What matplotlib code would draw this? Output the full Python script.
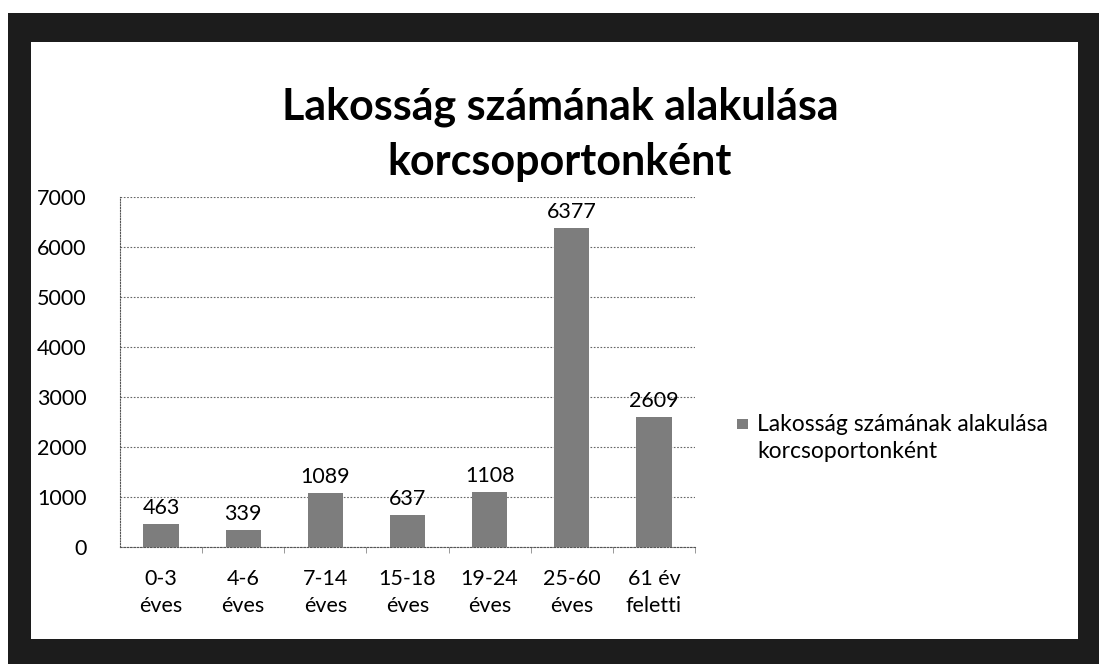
import matplotlib.pyplot as plt
from matplotlib.patches import Rectangle

# Data
categories = ['0-3\néves', '4-6\néves', '7-14\néves', '15-18\néves',
              '19-24\néves', '25-60\néves', '61 év\nfeletti']
values = [463, 339, 1089, 637, 1108, 6377, 2609]
series_name = 'Lakosság számának alakulása\nkorcsoportonként'
title = 'Lakosság számának alakulása\nkorcsoportonként'
yticks = [0, 1000, 2000, 3000, 4000, 5000, 6000, 7000]

plt.rcParams['font.family'] = ['Lato', 'DejaVu Sans']
fs = 15.5
bar_color = '#7d7d7d'

fig = plt.figure(figsize=(10.99, 6.64), dpi=100)

# dark scanned frame around the chart
frame = Rectangle((8 / 1099, 0), 1 - 8 / 1099, 1 - 13 / 664,
                  transform=fig.transFigure, facecolor='#1c1c1c',
                  edgecolor='none', zorder=-2)
inner = Rectangle((31 / 1099, 25 / 664), (1078 - 31) / 1099, (639 - 42) / 664,
                  transform=fig.transFigure, facecolor='white',
                  edgecolor='none', zorder=-1)
fig.patches.extend([frame, inner])

ax = fig.add_axes([120 / 1099, 1 - 547 / 664, 575 / 1099, 350 / 664])
ax.set_facecolor('none')
ax.set_zorder(2)

x = range(len(categories))
bars = ax.bar(x, values, width=0.43, color=bar_color, label=series_name, zorder=3)

for xi, v in zip(x, values):
    ax.text(xi, v + 120, str(v), ha='center', va='bottom', fontsize=fs, zorder=4)

ax.set_xlim(-0.5, len(categories) - 0.5)
ax.set_ylim(0, 7000)
ax.set_yticks(yticks)
ax.set_xticks(list(x))
ax.set_xticks([i + 0.5 for i in range(len(categories))], minor=True)
ax.set_xticklabels(categories, fontsize=fs, linespacing=1.45)
ax.tick_params(axis='y', labelsize=fs, length=0, pad=24)
ax.tick_params(axis='x', which='major', length=0, pad=16)
ax.tick_params(axis='x', which='minor', length=4, color='#888888')

ax.grid(axis='y', linestyle=(0, (1.5, 1.5)), color='#666666', linewidth=0.8, zorder=1)
for side in ['top', 'right']:
    ax.spines[side].set_visible(False)
ax.spines['left'].set_linestyle((0, (1, 1.5)))
ax.spines['left'].set_color('#555555')
ax.spines['bottom'].set_linestyle((0, (1.5, 1.5)))
ax.spines['bottom'].set_color('#555555')

fig.text(560 / 1099, 1 - 134 / 664, title, ha='center', va='center',
         fontsize=31, fontweight='bold', linespacing=1.45)

# legend: small square key aligned with the first text line
fig.patches.append(Rectangle((737 / 1099, 1 - 429 / 664), 11 / 1099, 10 / 664,
                             transform=fig.transFigure, facecolor=bar_color,
                             edgecolor='none', zorder=3))
fig.text(757 / 1099, 1 - 414 / 664, series_name, ha='left', va='top',
         fontsize=16.5, linespacing=1.35)

fig.savefig('out.png', dpi=100)
